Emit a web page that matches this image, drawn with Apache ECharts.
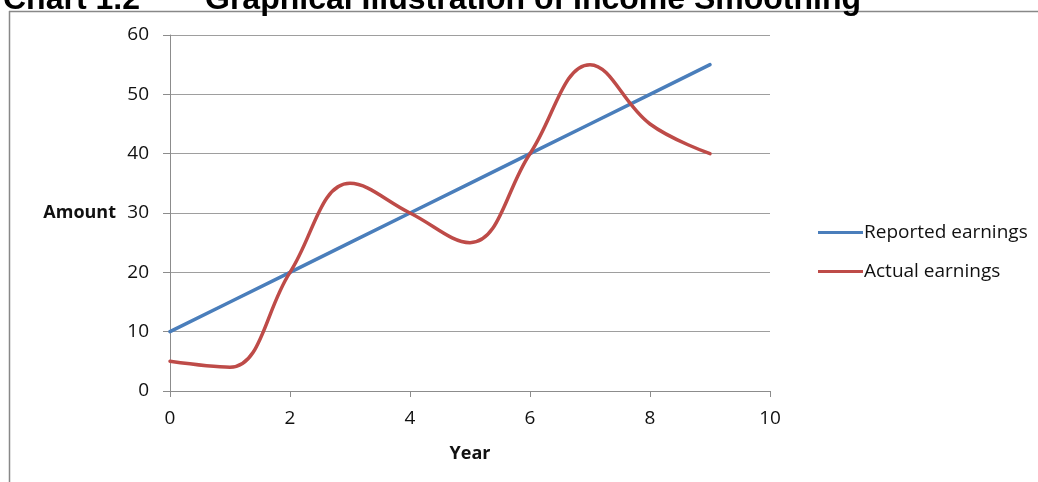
<!DOCTYPE html>
<html>
<head>
<meta charset="utf-8">
<style>
  html, body { margin: 0; padding: 0; background: #fff; }
  #chart { width: 1038px; height: 482px; }
</style>
<script src="https://cdn.jsdelivr.net/npm/echarts@6/dist/echarts.min.js"></script>
</head>
<body>
<div id="chart"></div>
<script>
// Earnings by year
const years = [0, 1, 2, 3, 4, 5, 6, 7, 8, 9];
const reportedEarnings = [10, 15, 20, 25, 30, 35, 40, 45, 50, 55];
const actualEarnings = [5, 4, 20, 35, 30, 25, 40, 55, 45, 40];

const seriesNames = ['Reported earnings', 'Actual earnings'];
const chartTitle = 'Chart 1.2';
const chartSubtitle = 'Graphical Illustration of Income Smoothing';

const toPairs = (xs, ys) => xs.map((x, i) => [x, ys[i]]);

const chart = echarts.init(document.getElementById('chart'), null, { renderer: 'canvas' });

const labelFont = { fontFamily: 'Open Sans', fontSize: 19, color: '#111' };
const gray = '#8c8c8c';

chart.setOption({
  animation: false,
  backgroundColor: '#fff',
  grid: { left: 170, right: 268, top: 35, bottom: 91, containLabel: false },
  graphic: [
    // page frame
    { type: 'line', shape: { x1: 9.5, y1: 11, x2: 9.5, y2: 482 }, style: { stroke: '#888', lineWidth: 1.5 } },
    { type: 'line', shape: { x1: 9, y1: 11.5, x2: 1038, y2: 11.5 }, style: { stroke: '#888', lineWidth: 1.5 } },
    { type: 'text', left: 3, top: -16, style: { text: chartTitle, font: 'bold 32px "Liberation Sans"', fill: '#000' } },
    { type: 'text', left: 205, top: -16, style: { text: chartSubtitle, font: 'bold 32px "Liberation Sans"', fill: '#000' } }
  ],
  legend: {
    orient: 'vertical',
    left: 813,
    top: 217,
    itemWidth: 45,
    itemHeight: 3,
    itemGap: 18,
    icon: 'rect',
    textStyle: { fontFamily: 'Open Sans', fontSize: 19, color: '#111', lineHeight: 21, padding: [0, 0, 0, -4] },
    data: seriesNames
  },
  xAxis: {
    type: 'value',
    min: 0, max: 10, interval: 2,
    name: 'Year',
    nameLocation: 'middle',
    nameGap: 54,
    nameTextStyle: { fontFamily: 'Open Sans', fontSize: 18, fontWeight: 'bold', color: '#111' },
    axisLine: { show: true, lineStyle: { color: gray, width: 1 } },
    axisTick: { show: true, length: 6, lineStyle: { color: gray } },
    axisLabel: Object.assign({ margin: 18 }, labelFont),
    splitLine: { show: false }
  },
  yAxis: {
    type: 'value',
    min: 0, max: 60, interval: 10,
    name: 'Amount',
    nameLocation: 'middle',
    nameRotate: 0,
    nameGap: 54,
    nameTextStyle: { fontFamily: 'Open Sans', fontSize: 18, fontWeight: 'bold', color: '#111', padding: [5, 0, 0, 0] },
    axisLine: { show: true, lineStyle: { color: gray, width: 1 } },
    axisTick: { show: true, length: 7, lineStyle: { color: gray } },
    axisLabel: Object.assign({ margin: 21 }, labelFont),
    splitLine: { show: true, lineStyle: { color: '#9e9e9e', width: 1 } }
  },
  series: [
    {
      name: seriesNames[0],
      type: 'line',
      data: toPairs(years, reportedEarnings),
      showSymbol: false,
      symbol: 'none',
      lineStyle: { color: '#4a7ebb', width: 3.5, cap: 'round' },
      itemStyle: { color: '#4a7ebb' }
    },
    {
      name: seriesNames[1],
      type: 'line',
      data: toPairs(years, actualEarnings),
      smooth: 0.4,
      showSymbol: false,
      symbol: 'none',
      lineStyle: { color: '#be4b48', width: 3.5, cap: 'round' },
      itemStyle: { color: '#be4b48' }
    }
  ]
});
</script>
</body>
</html>
